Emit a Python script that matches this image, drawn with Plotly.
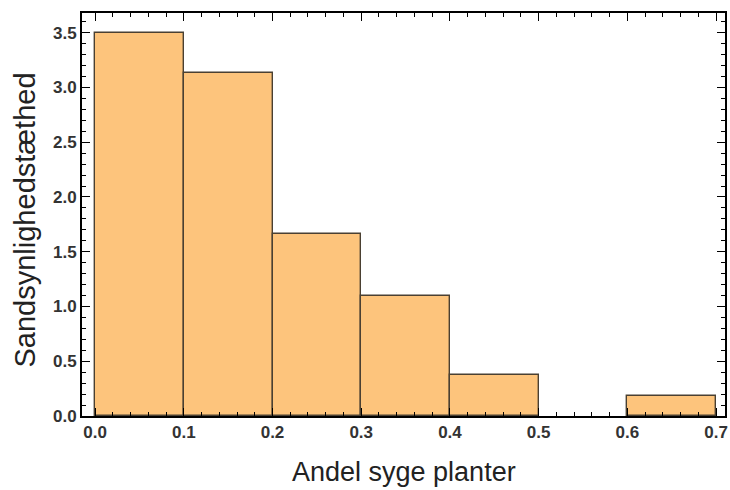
import plotly.graph_objects as go

bin_left = [0.0, 0.1, 0.2, 0.3, 0.4, 0.6]
bin_width = 0.1
density = [3.50, 3.13, 1.66, 1.10, 0.37, 0.18]
x_ticks = [0.0, 0.1, 0.2, 0.3, 0.4, 0.5, 0.6, 0.7]
y_ticks = [0.0, 0.5, 1.0, 1.5, 2.0, 2.5, 3.0, 3.5]

centers = [b + bin_width / 2 for b in bin_left]

fig = go.Figure(go.Bar(
    x=centers, y=density, width=[bin_width] * len(centers),
    marker=dict(color="#FDC47C", line=dict(color="#4a4032", width=1.4)),
))

tickfont = dict(family="Liberation Sans", size=17, color="#333", weight="bold")
fig.update_layout(
    width=730, height=490,
    margin=dict(l=82, r=5, t=13, b=74),
    plot_bgcolor="white", paper_bgcolor="white",
    showlegend=False,
    bargap=0,
    annotations=[
        dict(text="Andel syge planter", xref="paper", yref="paper", x=0.5, y=0,
             yshift=-56, xanchor="center", yanchor="middle", showarrow=False,
             font=dict(family="Liberation Sans", size=27, color="#222")),
        dict(text="Sandsynlighedstæthed", xref="paper", yref="paper", x=0, y=0.5,
             xshift=-58, yshift=-6, xanchor="center", yanchor="middle", showarrow=False, textangle=-90,
             font=dict(family="Liberation Sans", size=29, color="#222")),
    ],
)
fig.update_xaxes(
    range=[-0.0147, 0.71], automargin=False,
    tickvals=x_ticks, ticktext=[f"{v:.1f}" for v in x_ticks],
    ticks="inside", ticklen=8, tickwidth=1.4, tickcolor="black",
    minor=dict(dtick=0.02, tick0=0, ticks="inside", ticklen=4, tickwidth=1.4, tickcolor="black"),
    showline=True, linecolor="black", linewidth=2, mirror="ticks",
    showgrid=False, zeroline=False,
    tickfont=tickfont,
)
fig.update_yaxes(
    range=[0, 3.68], automargin=False,
    tickvals=y_ticks, ticktext=[f"{v:.1f}" for v in y_ticks],
    ticks="inside", ticklen=8, tickwidth=1.4, tickcolor="black",
    minor=dict(dtick=0.1, tick0=0, ticks="inside", ticklen=4, tickwidth=1.4, tickcolor="black"),
    showline=True, linecolor="black", linewidth=2, mirror="ticks",
    showgrid=False, zeroline=False,
    tickfont=tickfont,
)
fig.write_html("out.html")
